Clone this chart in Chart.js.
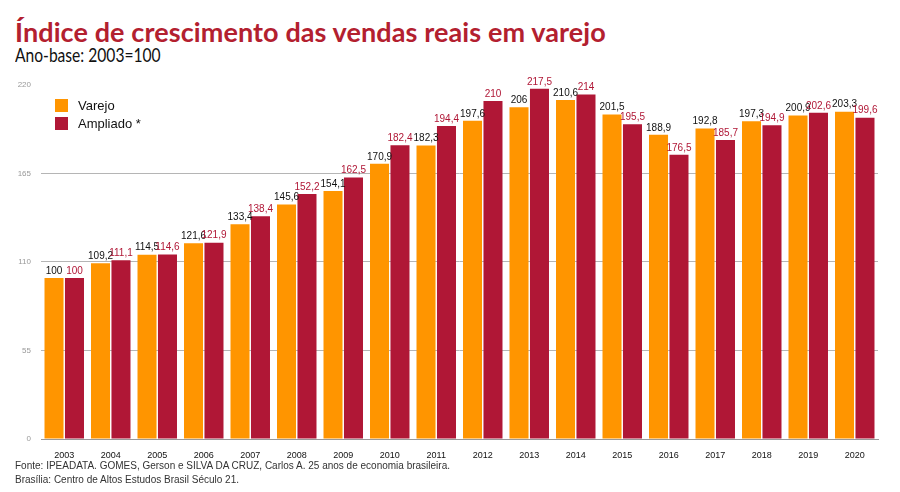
<!DOCTYPE html>
<html>
<head>
<meta charset="utf-8">
<script src="https://cdn.jsdelivr.net/npm/chart.js@4.4.1/dist/chart.umd.min.js"></script>
<style>
  html, body { margin: 0; padding: 0; background: #fff; }
  body { width: 900px; height: 492px; position: relative; overflow: hidden; font-family: Lato, 'Open Sans', sans-serif; }
  #title { position: absolute; left: 15px; top: 15px; font: bold 27px Lato, sans-serif; color: #b3202f; white-space: nowrap; letter-spacing: 0.1px; }
  #subtitle { position: absolute; left: 15px; top: 42px; font: 20px Lato, sans-serif; color: #111; white-space: nowrap; transform: scaleX(0.78); transform-origin: left top; }
  #wrap { position: absolute; left: 0; top: 70px; width: 900px; height: 390px; }
  #legend { position: absolute; left: 55px; top: 96px; font: 13px 'Liberation Sans', Arial, sans-serif; color: #111; }
  #legend div { height: 18px; line-height: 13px; display: flex; align-items: center; }
  #legend span.sw { display: inline-block; width: 13px; height: 13px; margin-right: 10px; }
  #source { position: absolute; left: 15px; top: 459px; font: 10px 'Liberation Sans', Arial, sans-serif; color: #333; line-height: 14px; }
</style>
</head>
<body>
<div id="title">Índice de crescimento das vendas reais em varejo</div>
<div id="subtitle">Ano-base: 2003=100</div>
<div id="wrap"><canvas id="chart"></canvas></div>
<div id="legend">
  <div><span class="sw" style="background:#ff9500"></span>Varejo</div>
  <div><span class="sw" style="background:#b01736"></span>Ampliado *</div>
</div>
<div id="source">Fonte: IPEADATA. GOMES, Gerson e SILVA DA CRUZ, Carlos A. 25 anos de economia brasileira.<br>Brasília: Centro de Altos Estudos Brasil Século 21.</div>
<script>
const years = ['2003', '2004', '2005', '2006', '2007', '2008', '2009', '2010', '2011',
  '2012', '2013', '2014', '2015', '2016', '2017', '2018', '2019', '2020'];
const varejo = [100, 109.2, 114.5, 121.6, 133.4, 145.6, 154.1, 170.9, 182.3,
  197.6, 206, 210.6, 201.5, 188.9, 192.8, 197.3, 200.9, 203.3];
const ampliado = [100, 111.1, 114.6, 121.9, 138.4, 152.2, 162.5, 182.4, 194.4,
  210, 217.5, 214, 195.5, 176.5, 185.7, 194.9, 202.6, 199.6];
const yTicks = [0, 55, 110, 165, 220];

const ORANGE = '#ff9500';
const RED = '#b01736';

// value labels above each bar, comma as decimal separator
const barLabels = {
  id: 'barLabels',
  afterDatasetsDraw(chart) {
    const ctx = chart.ctx;
    ctx.save();
    ctx.font = '10px "Liberation Sans", Arial, sans-serif';
    ctx.textAlign = 'center';
    ctx.textBaseline = 'bottom';
    chart.data.datasets.forEach((ds, i) => {
      const meta = chart.getDatasetMeta(i);
      ctx.fillStyle = i === 0 ? '#111' : '#b01736';
      meta.data.forEach((bar, j) => {
        const txt = String(ds.data[j]).replace('.', ',');
        ctx.fillText(txt, bar.x, bar.y - 2);
      });
    });
    ctx.restore();
  }
};

new Chart(document.getElementById('chart'), {
  type: 'bar',
  data: {
    labels: years,
    datasets: [
      { label: 'Varejo', data: varejo, backgroundColor: ORANGE },
      { label: 'Ampliado *', data: ampliado, backgroundColor: RED },
    ],
  },
  options: {
    responsive: true,
    maintainAspectRatio: false,
    animation: false,
    layout: { padding: { top: 6, right: 22, bottom: 0, left: 0 } },
    datasets: { bar: { categoryPercentage: 0.88, barPercentage: 0.93 } },
    plugins: {
      legend: { display: false },
      tooltip: { enabled: false },
    },
    scales: {
      x: {
        grid: { display: false },
        border: { display: true, color: '#999', dash: [2, 2] },
        ticks: { color: '#111', font: { family: "'Liberation Sans', Arial, sans-serif", size: 9 }, padding: 3 },
        afterFit: s => { s.height = 21; },
      },
      y: {
        min: 0,
        max: 220,
        afterBuildTicks: s => { s.ticks = yTicks.map(v => ({ value: v })); },
        grid: {
          color: c => (c.tick.value === 0 || c.tick.value === 220) ? 'rgba(0,0,0,0)' : '#b5b5b5',
          drawTicks: false,
        },
        border: { display: false },
        ticks: { color: '#999', font: { family: "'Liberation Sans', Arial, sans-serif", size: 8 }, padding: 10 },
        afterFit: s => { s.width = 41; },
      },
    },
  },
  plugins: [barLabels],
});
</script>
</body>
</html>
